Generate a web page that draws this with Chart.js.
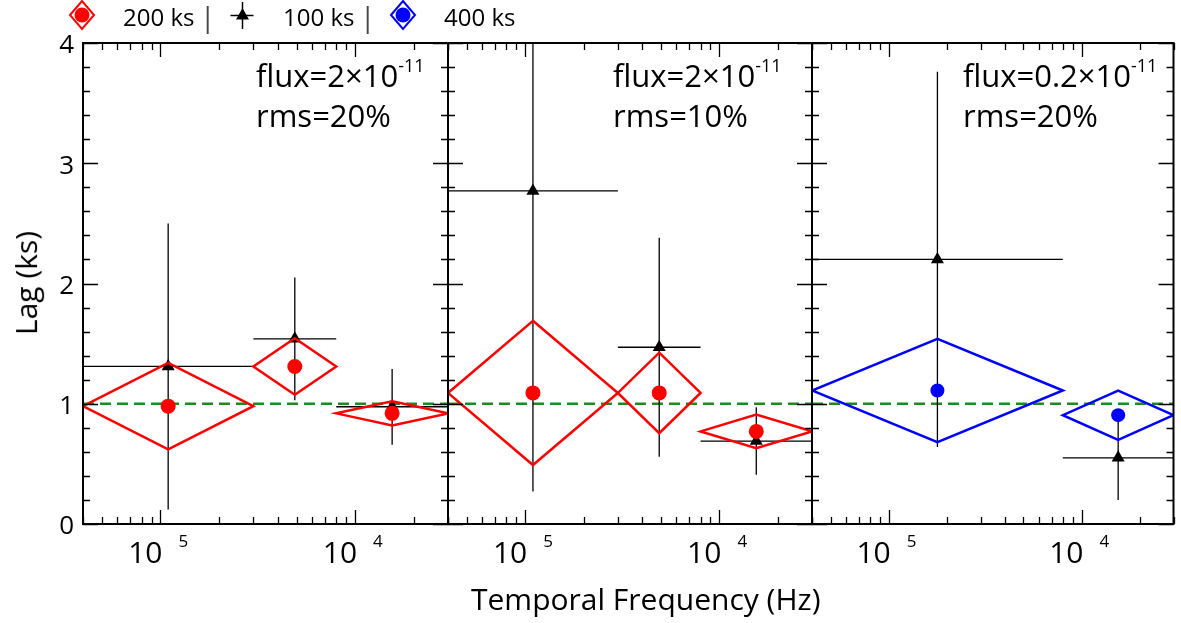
<!DOCTYPE html>
<html><head><meta charset="utf-8">
<script src="https://cdn.jsdelivr.net/npm/chart.js@4.4.1/dist/chart.umd.min.js"></script>
<style>
html,body{margin:0;padding:0;background:#fff;}
body{width:1181px;height:623px;position:relative;overflow:hidden;font-family:'Open Sans',sans-serif;color:#000;}
canvas{position:absolute;top:0;}
.t{position:absolute;white-space:nowrap;}
.sup{position:relative;}
</style></head><body>
<script>
// ---------------- data ----------------
const xMin = 4e-6, xMax = 3e-4;
const yMin = 0, yMax = 4;
const binEdgesAB = [4e-6, 3e-5, 8e-5, 3e-4];   // panels 1 and 2
const binEdgesC  = [4e-6, 8e-5, 3e-4];         // panel 3
// Panel 1 : flux = 2e-11, rms = 20%
const p1Lag200 = [0.98, 1.31, 0.92];
const p1Err200 = [0.36, 0.235, 0.10];
const p1Lag100 = [1.31, 1.54, 0.975];
const p1Err100 = [1.19, 0.51, 0.315];
// Panel 2 : flux = 2e-11, rms = 10%
const p2Lag200 = [1.09, 1.09, 0.77];
const p2Err200 = [0.60, 0.335, 0.14];
const p2Lag100 = [2.77, 1.47, 0.69];
const p2Err100 = [2.50, 0.91, 0.28];
// Panel 3 : flux = 0.2e-11, rms = 20%
const p3Lag400 = [1.11, 0.905];
const p3Err400 = [0.43, 0.205];
const p3Lag100 = [2.20, 0.55];
const p3Err100 = [1.56, 0.35];
const refLag = 1;
const yTickValues = [0, 1, 2, 3, 4];
const xTickValues = [1e-5, 1e-4];
const xTickBase = ['10', '10'];
const xTickExp = ['5', '4'];
const panelFlux = ['2', '2', '0.2'];
const panelRms = ['20%', '10%', '20%'];
const legendLabels = ['200 ks', '100 ks', '400 ks'];
const xTitle = 'Temporal Frequency (Hz)';
const yTitle = 'Lag (ks)';

// ---------------- layout ----------------
const TOP = 43, BOTTOM = 524, CANVAS_H = 585;
const panelLeft = [83, 448, 812];
const panelRight = [448, 812, 1175];
const RED = '#ff0000', BLUE = '#0000ff', BLACK = '#000000', GREEN = '#1f8a1f';
const FONT = "'Open Sans', sans-serif";

function centers(edges){ const c=[]; for(let i=0;i<edges.length-1;i++) c.push(Math.sqrt(edges[i]*edges[i+1])); return c; }
function diamondPath(edges, lag, err){
  const c = centers(edges), pts = [];
  lag.forEach((v,i)=>{
    pts.push({x:c[i],y:v+err[i]},{x:edges[i+1],y:v},{x:c[i],y:v-err[i]},{x:edges[i],y:v},{x:c[i],y:v+err[i]},{x:edges[i+1],y:v},{x:c[i],y:null});
  });
  return pts;
}
function errorPath(edges, lag, err){
  const c = centers(edges), pts = [];
  lag.forEach((v,i)=>{
    pts.push({x:edges[i],y:v},{x:edges[i+1],y:v},{x:c[i],y:null},{x:c[i],y:v-err[i]},{x:c[i],y:v+err[i]},{x:c[i],y:null});
  });
  return pts;
}
function points(edges, lag){ return centers(edges).map((c,i)=>({x:c,y:lag[i]})); }

function lineDs(data, color, width, dash){
  return {data, showLine:true, borderColor:color, backgroundColor:color, borderWidth:width,
    pointRadius:0, pointHoverRadius:0, spanGaps:false, borderDash:dash||[], borderJoinStyle:'miter', tension:0};
}
function ptDs(data, color, style, r){
  return {data, showLine:false, pointStyle:style, pointRadius:r, pointHoverRadius:r,
    backgroundColor:color, borderColor:color, borderWidth:0};
}

const framePlugin = {
  id:'frame',
  afterDatasetsDraw(chart){
    const {ctx, chartArea:a, scales:{x, y}} = chart;
    const o = chart.options.plugins.frame;
    ctx.save();
    ctx.strokeStyle = '#000';
    ctx.lineWidth = 1.3;
    ctx.beginPath();
    for (let k=0;k<=20;k++){
      const v = k*0.2, py = Math.round(y.getPixelForValue(v))+0.5;
      const len = (k%5===0)?15:7;
      ctx.moveTo(a.left, py); ctx.lineTo(a.left+len, py);
      ctx.moveTo(a.right, py); ctx.lineTo(a.right-len, py);
    }
    for (let d=-6; d<=-4; d++){
      for (let m=1;m<=9;m++){
        const v = m*Math.pow(10,d);
        if (v < xMin*0.999 || v > xMax*1.001) continue;
        const px = Math.round(x.getPixelForValue(v))+0.5;
        const len = (m===1)?14:7;
        ctx.moveTo(px, a.bottom); ctx.lineTo(px, a.bottom-len);
        ctx.moveTo(px, a.top); ctx.lineTo(px, a.top+len);
      }
    }
    ctx.stroke();
    ctx.lineWidth = 2;
    ctx.strokeRect(a.left, a.top, a.right-a.left, a.bottom-a.top);
    ctx.fillStyle = '#000';
    if (o.yLabels){
      ctx.font = '26px ' + FONT;
      ctx.textAlign = 'right'; ctx.textBaseline = 'middle';
      yTickValues.forEach(v=>{ ctx.fillText(String(v), a.left-9, y.getPixelForValue(v)+3); });
    }
    ctx.textBaseline = 'alphabetic';
    xTickValues.forEach((v,i)=>{
      const px = x.getPixelForValue(v);
      ctx.font = '30px ' + FONT; ctx.textAlign = 'right';
      ctx.fillText(xTickBase[i], px+2, 563);
      ctx.font = '17px ' + FONT; ctx.textAlign = 'left';
      ctx.fillText(xTickExp[i], px+18, 547);
    });
    ctx.restore();
  }
};

function makePanel(i, datasets){
  const cl = i===0 ? 0 : panelLeft[i]-12;
  const cr = i===2 ? 1181 : panelRight[i]+12;
  const cv = document.createElement('canvas');
  cv.width = cr-cl; cv.height = CANVAS_H;
  cv.style.left = cl+'px'; cv.style.width = (cr-cl)+'px'; cv.style.height = CANVAS_H+'px';
  document.body.appendChild(cv);
  new Chart(cv, {
    type:'scatter',
    data:{datasets},
    options:{
      responsive:false, animation:false, devicePixelRatio:1, events:[],
      layout:{padding:{left:panelLeft[i]-cl, right:cr-panelRight[i], top:TOP, bottom:CANVAS_H-BOTTOM}},
      scales:{
        x:{type:'logarithmic', min:xMin, max:xMax, display:false},
        y:{type:'linear', min:yMin, max:yMax, display:false}
      },
      plugins:{legend:{display:false}, tooltip:{enabled:false}, frame:{yLabels:i===0}}
    },
    plugins:[framePlugin]
  });
}

function refLine(){ return lineDs([{x:xMin,y:refLag},{x:xMax,y:refLag}], GREEN, 2.5, [11,6]); }

function text(str, x, baseline, size, extra){
  const d = document.createElement('div');
  d.className='t';
  d.style.left = x+'px'; d.style.top = (baseline-0.888*size)+'px';
  d.style.fontSize = size+'px'; d.style.lineHeight = size+'px';
  d.innerHTML = str;
  if (extra) Object.assign(d.style, extra);
  document.body.appendChild(d);
  return d;
}

function build(){
  makePanel(0, [
    ptDs(points(binEdgesAB, p1Lag200), RED, 'circle', 7.5),
    lineDs(diamondPath(binEdgesAB, p1Lag200, p1Err200), RED, 2.5),
    ptDs(points(binEdgesAB, p1Lag100), BLACK, 'triangle', 7.5),
    lineDs(errorPath(binEdgesAB, p1Lag100, p1Err100), BLACK, 1.3),
    refLine()
  ]);
  makePanel(1, [
    ptDs(points(binEdgesAB, p2Lag200), RED, 'circle', 7.5),
    lineDs(diamondPath(binEdgesAB, p2Lag200, p2Err200), RED, 2.5),
    ptDs(points(binEdgesAB, p2Lag100), BLACK, 'triangle', 7.5),
    lineDs(errorPath(binEdgesAB, p2Lag100, p2Err100), BLACK, 1.3),
    refLine()
  ]);
  makePanel(2, [
    ptDs(points(binEdgesC, p3Lag400), BLUE, 'circle', 7),
    lineDs(diamondPath(binEdgesC, p3Lag400, p3Err400), BLUE, 2.5),
    ptDs(points(binEdgesC, p3Lag100), BLACK, 'triangle', 7.5),
    lineDs(errorPath(binEdgesC, p3Lag100, p3Err100), BLACK, 1.3),
    refLine()
  ]);

  const annX = [256, 613, 963];
  annX.forEach((ax,i)=>{
    text('flux=' + panelFlux[i] + '×10<span class="sup" style="font-size:18px;top:-15px">-11</span>', ax, 88, 31);
    text('rms=' + panelRms[i], ax, 128, 31);
  });

  const xt = text(xTitle, 0, 611, 30);
  xt.style.left = (646 - xt.offsetWidth/2) + 'px';
  const yt = text(yTitle, 0, 0, 30);
  const w = yt.offsetWidth;
  yt.style.left = (26 - w/2) + 'px';
  yt.style.top = (283 - 15) + 'px';
  yt.style.transform = 'rotate(-90deg)';
  yt.style.transformOrigin = '50% 50%';

  const icons = [
    {cx:82, kind:'diamond', color:RED},
    {cx:242, kind:'tri', color:BLACK},
    {cx:403, kind:'diamond', color:BLUE}
  ];
  const labX = [123, 283, 444];
  const sepX = [200, 360, null];
  icons.forEach((ic,i)=>{
    const svgNS = 'http://www.w3.org/2000/svg';
    const s = document.createElementNS(svgNS,'svg');
    s.setAttribute('width','32'); s.setAttribute('height','32');
    s.style.position='absolute'; s.style.left=(ic.cx-16)+'px'; s.style.top='-1px';
    if (ic.kind==='diamond'){
      s.innerHTML = '<polygon points="4,16 16,2 28,16 16,30" fill="none" stroke="'+ic.color+'" stroke-width="2"/>'+
                    '<circle cx="16" cy="16" r="7.5" fill="'+ic.color+'"/>';
    } else {
      s.innerHTML = '<line x1="4.5" y1="16.5" x2="27.5" y2="16.5" stroke="#000" stroke-width="1.5"/>'+
                    '<line x1="16.5" y1="3" x2="16.5" y2="30" stroke="#000" stroke-width="1.5"/>'+
                    '<polygon points="16.5,9 23,20.5 10,20.5" fill="#000"/>';
    }
    document.body.appendChild(s);
    text(legendLabels[i], labX[i], 26, 24);
    if (sepX[i]!==null) text('|', sepX[i], 27, 28, {color:'#444'});
  });
}

document.fonts.ready.then(build);
</script>
</body></html>
